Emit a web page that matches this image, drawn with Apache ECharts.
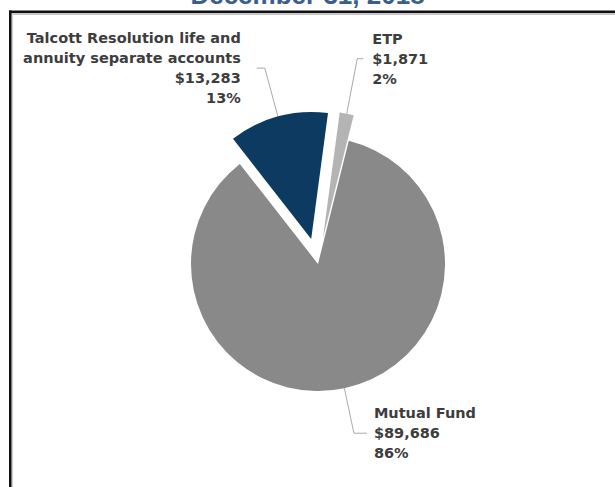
<!DOCTYPE html>
<html>
<head>
<meta charset="utf-8">
<script src="https://cdn.jsdelivr.net/npm/echarts@6/dist/echarts.min.js"></script>
<style>
html,body{margin:0;padding:0;background:#fff;}
#c{width:615px;height:487px;}
</style>
</head>
<body>
<div id="c"></div>
<script>
var titleText = 'December 31, 2018';
var categories = ['Talcott Resolution life and\nannuity separate accounts', 'ETP', 'Mutual Fund'];
var values = [13283, 1871, 89686];
var colors = ['#0c3a60', '#b4b4b4', '#898989'];
var selectedFlags = [true, true, false];
var lineLens = [50, 56, 46];
var lineLens2 = [8, 6, 13];
var labelDists = [16, 9, 7];
var labelPadTop = [4, 12, 8];

var chart = echarts.init(document.getElementById('c'), null, {renderer: 'svg'});
var data = categories.map(function (name, i) {
  return {
    name: name,
    value: values[i],
    selected: selectedFlags[i],
    itemStyle: {color: colors[i]},
    label: {distanceToLabelLine: labelDists[i], padding: [labelPadTop[i], 0, 0, 0]},
    labelLine: {length: lineLens[i], length2: lineLens2[i]}
  };
});

chart.setOption({
  animation: false,
  backgroundColor: '#ffffff',
  title: {
    text: titleText,
    left: 'center',
    top: -18,
    padding: 0,
    textStyle: {
      fontFamily: 'Liberation Sans',
      fontSize: 26,
      fontWeight: 'bold',
      color: '#3c5e8c'
    }
  },
  graphic: [
    {type: 'rect', shape: {x: 9, y: 13, width: 606, height: 2}, style: {fill: '#c8c8c8'}, z: 10},
    {type: 'rect', shape: {x: 9, y: 10.5, width: 606, height: 2.5}, style: {fill: '#111'}, z: 11},
    {type: 'rect', shape: {x: 9, y: 10.5, width: 2.5, height: 477}, style: {fill: '#111'}, z: 11},
    {type: 'rect', shape: {x: 11.5, y: 13, width: 1.5, height: 474}, style: {fill: '#cfcfcf'}, z: 10}
  ],
  series: [{
    type: 'pie',
    center: [318, 264],
    radius: 127,
    startAngle: 128,
    clockwise: true,
    selectedMode: 'multiple',
    selectedOffset: 26,
    avoidLabelOverlap: false,
    minShowLabelAngle: 0,
    label: {
      show: true,
      position: 'outside',
      fontFamily: 'DejaVu Sans',
      fontSize: 14.5,
      fontWeight: 'bold',
      lineHeight: 20,
      color: '#3d3d3d',
      formatter: function (p) {
        return p.name + '\n$' + p.value.toLocaleString('en-US') + '\n' + Math.round(p.percent) + '%';
      }
    },
    labelLine: {
      show: true,
      smooth: false,
      lineStyle: {color: '#aaaaaa', width: 1}
    },
    emphasis: {disabled: true},
    itemStyle: {borderWidth: 0},
    data: data
  }]
});
</script>
</body>
</html>
